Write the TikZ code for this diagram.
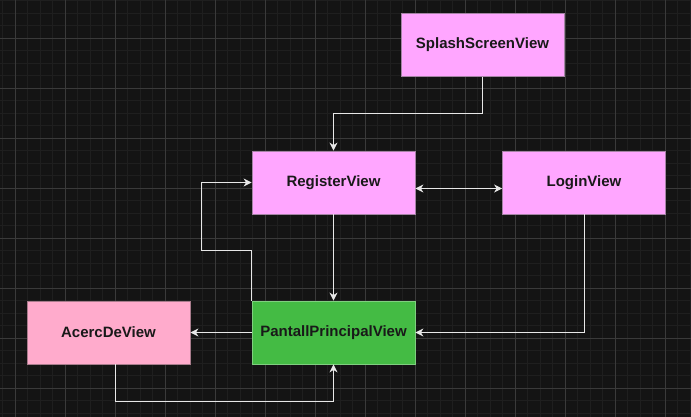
\documentclass[tikz,border=0pt]{standalone}
\usepackage{fontspec}
\setmainfont{Liberation Sans}
\usepackage{xcolor}
\usetikzlibrary{arrows.meta}
\definecolor{canvas}{HTML}{141414}
\definecolor{gridminor}{HTML}{1F1F1F}
\definecolor{gridmajor}{HTML}{3A3A3A}
\definecolor{viewpink}{HTML}{FFA6FF}
\definecolor{viewpinkline}{HTML}{A583A5}
\definecolor{aboutpink}{HTML}{FFABCC}
\definecolor{aboutpinkline}{HTML}{A87C8C}
\definecolor{maingreen}{HTML}{44BB44}
\definecolor{maingreenline}{HTML}{7FCF7F}
\definecolor{linkgray}{HTML}{E8E8E8}
\tikzstyle{view}=[draw=viewpinkline,fill=viewpink,line width=0.8pt,minimum width=163pt,minimum height=63pt,inner sep=0pt,font=\fontsize{15}{18}\selectfont\bfseries,text=black!90]
\tikzstyle{aboutview}=[view,draw=aboutpinkline,fill=aboutpink]
\tikzstyle{mainview}=[view,draw=maingreenline,fill=maingreen]
\tikzstyle{link}=[draw=linkgray,line width=0.9pt,-{Stealth[length=8pt,width=8pt,inset=2.5pt]}]

\begin{document}
\begin{tikzpicture}[x=1pt,y=-1pt]
    % background and grid
    \fill[canvas] (0,0) rectangle (691,417);
    \useasboundingbox (0,0) rectangle (691,417);
    \foreach \x in {2.5,15,...,691} \draw[gridminor,line width=0.6pt] (\x,0) -- (\x,417);
    \foreach \y in {0.5,13,...,417} \draw[gridminor,line width=0.6pt] (0,\y) -- (691,\y);
    \foreach \x in {15,65,...,691} \draw[gridmajor,line width=0.6pt] (\x,0) -- (\x,417);
    \foreach \y in {38,88,...,417} \draw[gridmajor,line width=0.6pt] (0,\y) -- (691,\y);
    % views
    \node[view] (splash) at (482.5,45) {SplashScreenView};
    \node[view] (register) at (333.5,182.5) {RegisterView};
    \node[view] (login) at (584,182.5) {LoginView};
    \node[aboutview] (acerca) at (108.5,332.5) {AcercDeView};
    \node[mainview] (pantall) at (333.5,332.5) {PantallPrincipalView};
    % navigation
    \draw[link] (splash.south) -- ++(0,37) -| (register.north);
    \draw[link,{Stealth[length=8pt,width=8pt,inset=2.5pt]}-{Stealth[length=8pt,width=8pt,inset=2.5pt]}] ([yshift=-6pt]register.east) -- ([yshift=-6pt]login.west);
    \draw[link] (register) -- (pantall);
    \draw[link] (pantall) -- (acerca);
    \draw[link] (login.south) |- (pantall.east);
    \draw[link] ([xshift=6.5pt]acerca.south) -- ++(0,37) -| (pantall.south);
    \draw[link] (pantall.north west) -- ++(0,-50) -- ++(-50,0) |- (register.west);
\end{tikzpicture}
\end{document}
